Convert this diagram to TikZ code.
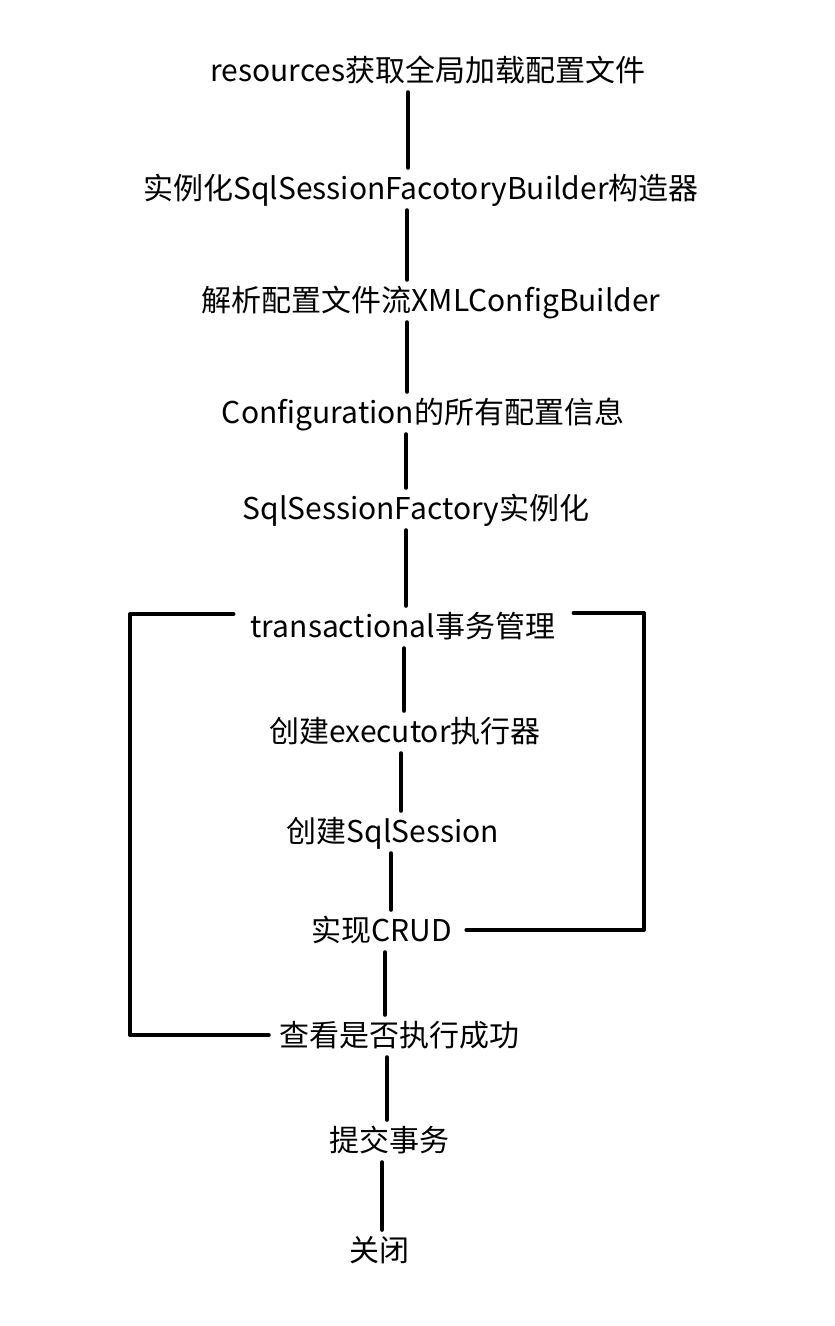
\documentclass[tikz,border=0pt]{standalone}
\usepackage{fontspec}
\setmainfont{Noto Sans CJK SC}
\usetikzlibrary{calc}
\tikzset{
  stepnode/.style={inner sep=0pt,text height=31pt,text depth=9pt,
    font=\fontsize{30}{35}\selectfont},
  flowline/.style={draw=black,line width=4pt,line cap=round,line join=round},
}

\begin{document}
\begin{tikzpicture}[x=1pt,y=-1pt]
        \path[use as bounding box,fill=white] (0,0) rectangle (835,1326);
        \coordinate (leftrail) at (130,0);
        \coordinate (rightrail) at (644,0);
        \foreach \i/\x/\y/\t in {1/428/70/resources获取全局加载配置文件,
          2/421/188/实例化SqlSessionFacotoryBuilder构造器,
          3/431/300/解析配置文件流XMLConfigBuilder,
          4/423/412/Configuration的所有配置信息,
          5/416/508/SqlSessionFactory实例化,
          6/403/626/transactional事务管理,
          7/405/731/创建executor执行器,
          8/393/831/创建SqlSession,
          9/382/930/实现CRUD,
          10/399/1035/查看是否执行成功,
          11/389/1140/提交事务,
          12/379/1250/关闭}
          {\node[stepnode] (s\i) at (\x,\y) {\t};}
        \foreach \i/\j/\x in {1/2/408,2/3/407,3/4/407,4/5/406,5/6/406,6/7/404,
          7/8/401,8/9/391,9/10/385,10/11/387,11/12/382}
          {\draw[flowline,shorten <=2pt] (s\i.south -| \x,0) -- (s\j.north -| \x,0);}
        \draw[flowline] ([xshift=-17pt,yshift=12pt]s6.west) -| (s10.west -| leftrail)
          -- ([xshift=-10pt]s10.west);
        \draw[flowline] ([xshift=18pt,yshift=13pt]s6.east) -| (s9.east -| rightrail)
          -- ([xshift=14pt]s9.east);
      \end{tikzpicture}
\end{document}
